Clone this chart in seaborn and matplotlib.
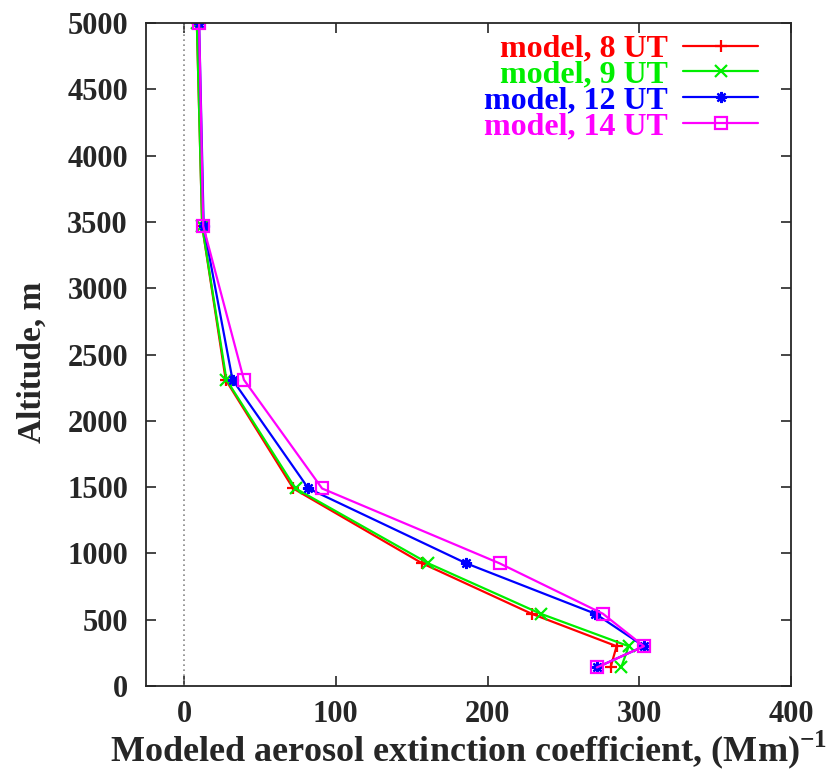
import pandas as pd
import matplotlib
matplotlib.use('Agg')
import matplotlib.pyplot as plt
import seaborn as sns

# altitude levels (m) and modeled extinction per model time
altitude = [5000, 3470, 2310, 1490, 925, 545, 300, 140]
ut8 = [8.5, 12, 27.5, 72, 157, 229, 285, 281]
ut9 = [8.5, 12, 28, 73.5, 161, 235, 293, 288]
ut12 = [10, 13, 32, 82, 186, 271, 303, 272]
ut14 = [10, 12.7, 39.5, 91, 208, 276, 303, 272]

series = {'model, 8 UT': ut8, 'model, 9 UT': ut9,
          'model, 12 UT': ut12, 'model, 14 UT': ut14}
colors = ['#ff0000', '#00ee00', '#0000ff', '#ff00ff']
markers = ['+', 'x', (8, 2, 0), 's']

sns.set_style('ticks')
plt.rcParams['font.family'] = ['Liberation Serif', 'DejaVu Serif']
plt.rcParams['font.weight'] = 'bold'
plt.rcParams['axes.labelweight'] = 'bold'
plt.rcParams['mathtext.fontset'] = 'custom'
plt.rcParams['mathtext.rm'] = 'Liberation Serif:bold'
plt.rcParams['mathtext.bf'] = 'Liberation Serif:bold'

fig = plt.figure(figsize=(8.39, 7.72), dpi=100)
ax = fig.add_axes([0.174, 0.1114, 0.769, 0.8586])

ax.axvline(0, color='#888888', linestyle=(0, (1, 2)), lw=1.2, zorder=1)

for (name, vals), c, m in zip(series.items(), colors, markers):
    df = pd.DataFrame({'ext': vals, 'alt': altitude})
    sns.lineplot(data=df, x='ext', y='alt', color=c, marker=m, sort=False,
                 orient='y', lw=1.6, markersize=8, markeredgewidth=1.6,
                 markeredgecolor=c, markerfacecolor='none', label=name, ax=ax)

ax.set_xlim(-25, 400)
ax.set_ylim(0, 5000)
ax.set_xticks([0, 100, 200, 300, 400])
ax.set_yticks(range(0, 5001, 500))
ax.tick_params(direction='in', length=7, width=1.2, top=True, right=True,
               labelsize=22)
ax.tick_params(axis='y', pad=13)
ax.tick_params(axis='x', pad=10)
for lab in ax.get_xticklabels() + ax.get_yticklabels():
    lab.set_fontweight('bold')
for s in ax.spines.values():
    s.set_linewidth(1.3)

ax.set_xlabel(r'Modeled aerosol extinction coefficient, (Mm)$^{\mathbf{-1}}$',
              fontsize=26, labelpad=0)
ax.set_ylabel('Altitude, m', fontsize=24)
ax.yaxis.set_label_coords(-0.153, 0.489)

handles, labels = ax.get_legend_handles_labels()
leg = ax.legend(handles, labels, loc='upper right', bbox_to_anchor=(0.949, 0.983),
                frameon=False, markerfirst=False, labelcolor='linecolor',
                handlelength=2.35, handletextpad=0.47, labelspacing=-0.11,
                borderaxespad=0, borderpad=0,
                prop={'weight': 'bold', 'size': 23})

fig.savefig('out.png', dpi=100)
